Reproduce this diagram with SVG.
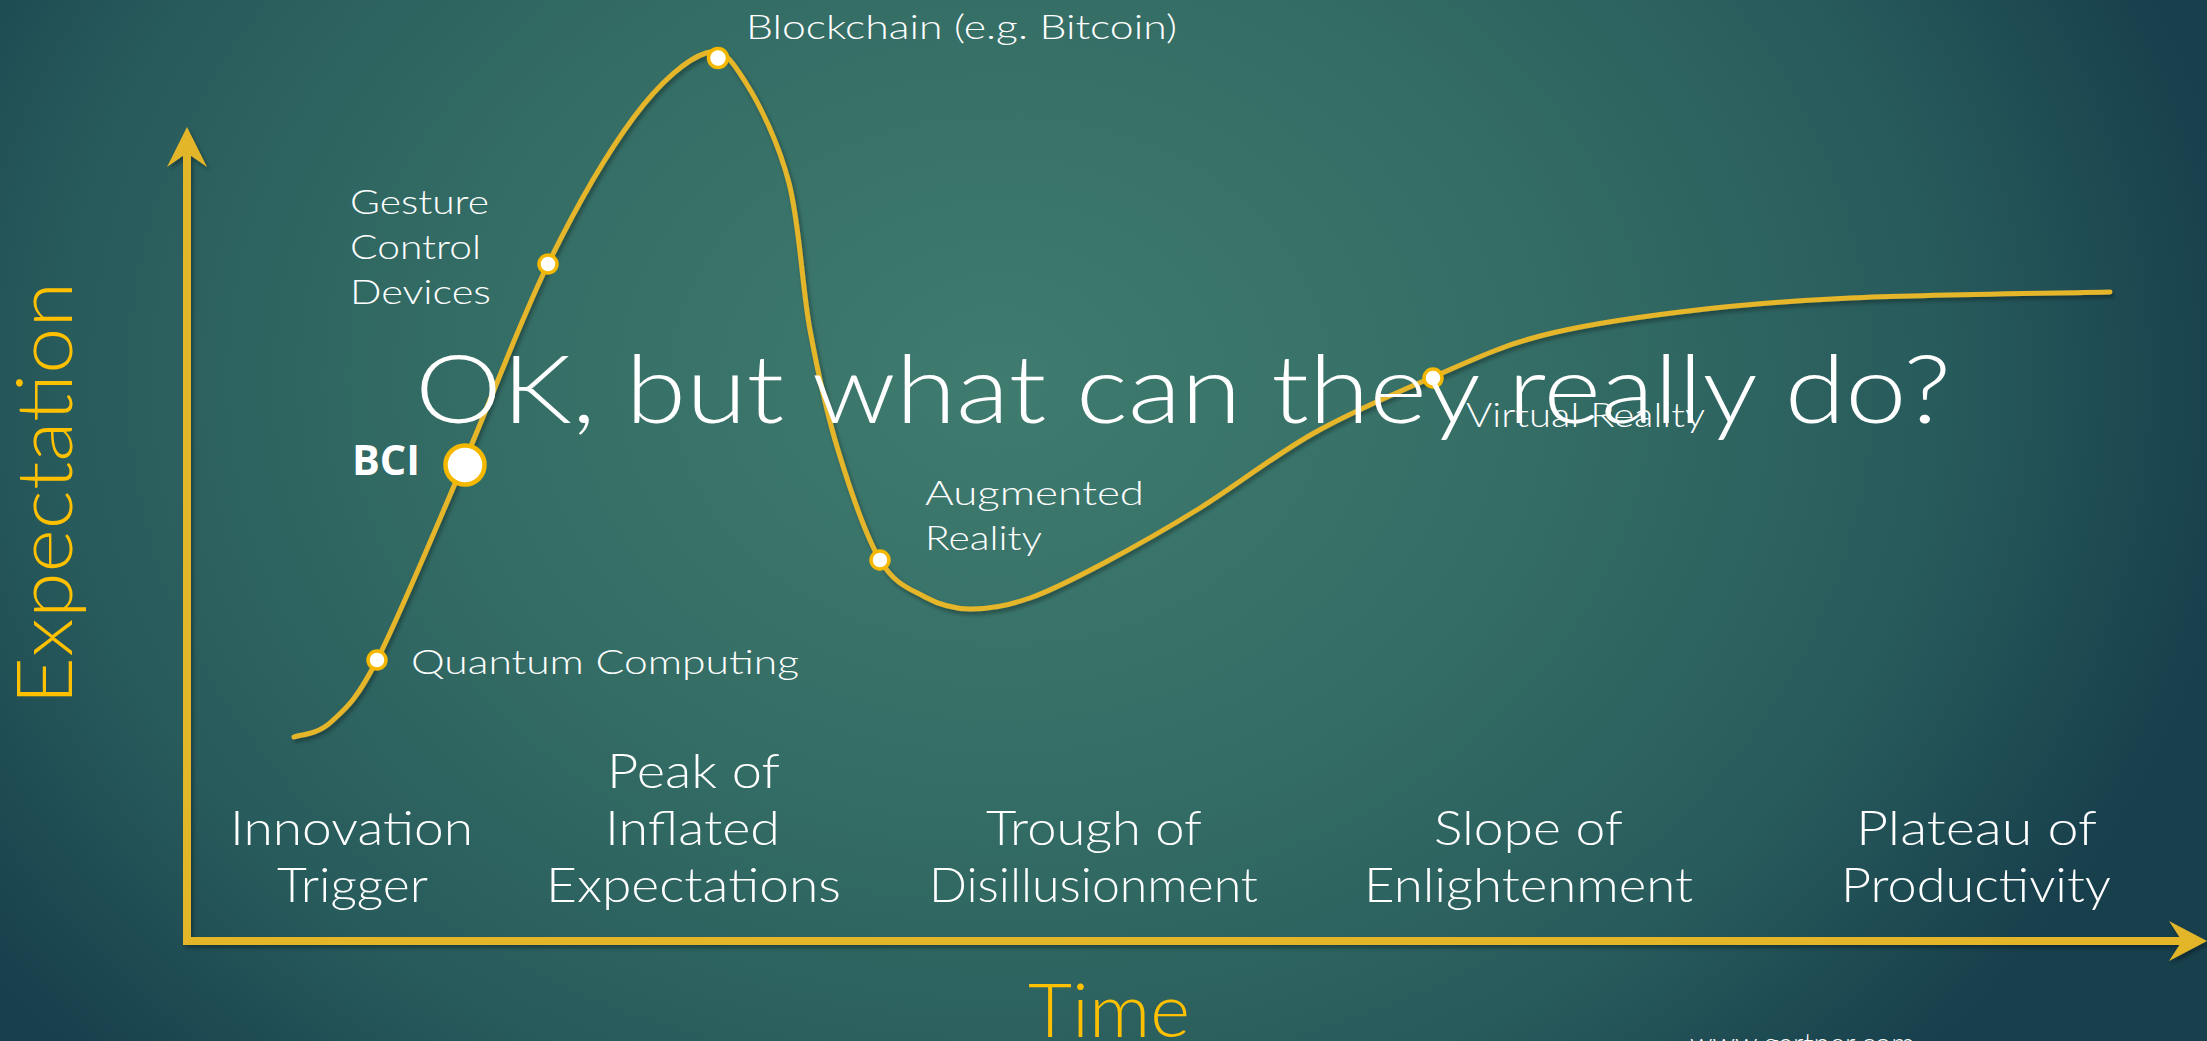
<svg xmlns="http://www.w3.org/2000/svg" width="2207" height="1041" viewBox="0 0 2207 1041">
  <defs>
    <radialGradient id="bg" gradientUnits="userSpaceOnUse" cx="1000" cy="380" r="1250" gradientTransform="translate(1000 380) scale(1 0.8) translate(-1000 -380)">
      <stop offset="0" stop-color="#3f7b6f"/>
      <stop offset="0.45" stop-color="#336c64"/>
      <stop offset="0.75" stop-color="#285b5c"/>
      <stop offset="1" stop-color="#173f4c"/>
    </radialGradient>
    <filter id="sh" x="-5%" y="-5%" width="110%" height="110%">
      <feDropShadow dx="2" dy="3" stdDeviation="2" flood-color="#000" flood-opacity="0.35"/>
    </filter>
    <style>
      .axis { fill: none; stroke: #e3b62a; stroke-width: 8; stroke-linejoin: miter; }
      .head { fill: #e3b62a; }
      .curve { fill: none; stroke: #e5b52b; stroke-width: 5; stroke-linecap: round; stroke-linejoin: round; }
      .dot { fill: #ffffff; stroke: #f5b800; stroke-width: 3.5; }
      .big { fill: #ffffff; stroke: #f5b800; stroke-width: 4.5; }
      .lbl { font-family: "Lato", "Liberation Sans", sans-serif; font-weight: 300; fill: #ffffff; }
      .ph { font-size: 48px; text-anchor: middle; }
      .pt { font-size: 34px; }
      .ax { font-family: "Lato", "Liberation Sans", sans-serif; font-weight: 300; fill: #ffc000; }
    </style>
  </defs>

  <rect x="0" y="0" width="2207" height="1041" fill="url(#bg)"/>

  <g id="axes" filter="url(#sh)">
    <polyline class="axis" points="187,153 187,941 2185,941"/>
    <polygon class="head" points="187,127 207,167 187,153 167,167"/>
    <polygon class="head" points="2207,941 2169,961 2182,941 2169,921"/>
  </g>

  <g id="axis-labels">
    <text class="ax" transform="translate(72 493.5) rotate(-90)" x="0" y="0" font-size="76" text-anchor="middle" textLength="423" lengthAdjust="spacingAndGlyphs">Expectation</text>
    <text class="ax" x="1109" y="1037" font-size="75" text-anchor="middle" textLength="162" lengthAdjust="spacingAndGlyphs">Time</text>
  </g>

  <g id="connectors">
    <path class="curve" filter="url(#sh)" d="M294,737 C300.2,734.5 317.2,734.8 331,722 C344.8,709.2 355,702.8 377,660 C399,617.2 434.5,531 463,465 C491.5,399 519.5,322 548,264 C576.5,206 607.7,152.2 634,117 C660.3,81.8 687.3,58.7 706,53 C724.7,47.3 732.2,61.3 746,83 C759.8,104.7 778.3,141.8 789,183 C799.7,224.2 801.8,285.5 810,330 C818.2,374.5 826.3,411.7 838,450 C849.7,488.3 865.5,535.5 880,560 C894.5,584.5 910,588.8 925,597 C940,605.2 952.5,608.8 970,609 C987.5,609.2 1007.7,605.7 1030,598 C1052.3,590.3 1075.7,578 1104,563 C1132.3,548 1165,529.7 1200,508 C1235,486.3 1275.2,454.8 1314,433 C1352.8,411.2 1395.3,393.2 1433,377 C1470.7,360.8 1498.8,346.8 1540,336 C1581.2,325.2 1628.3,318.3 1680,312 C1731.7,305.7 1778.3,301.3 1850,298 C1921.7,294.7 2066.7,293 2110,292"/>
  </g>

  <g id="phase-innovation">
    <text class="lbl ph" x="351.5" y="845" textLength="243" lengthAdjust="spacingAndGlyphs">Innovation</text>
    <text class="lbl ph" x="352.5" y="902" textLength="151" lengthAdjust="spacingAndGlyphs">Trigger</text>
  </g>
  <g id="phase-peak">
    <text class="lbl ph" x="693.5" y="788" textLength="173" lengthAdjust="spacingAndGlyphs">Peak of</text>
    <text class="lbl ph" x="692.5" y="845" textLength="175" lengthAdjust="spacingAndGlyphs">Inflated</text>
    <text class="lbl ph" x="693.5" y="902" textLength="295" lengthAdjust="spacingAndGlyphs">Expectations</text>
  </g>
  <g id="phase-trough">
    <text class="lbl ph" x="1094" y="845" textLength="216" lengthAdjust="spacingAndGlyphs">Trough of</text>
    <text class="lbl ph" x="1093.5" y="902" textLength="329" lengthAdjust="spacingAndGlyphs">Disillusionment</text>
  </g>
  <g id="phase-slope">
    <text class="lbl ph" x="1528.5" y="845" textLength="189" lengthAdjust="spacingAndGlyphs">Slope of</text>
    <text class="lbl ph" x="1528.5" y="902" textLength="329" lengthAdjust="spacingAndGlyphs">Enlightenment</text>
  </g>
  <g id="phase-plateau">
    <text class="lbl ph" x="1976.5" y="845" textLength="241" lengthAdjust="spacingAndGlyphs">Plateau of</text>
    <text class="lbl ph" x="1976" y="902" textLength="270" lengthAdjust="spacingAndGlyphs">Productivity</text>
  </g>

  <g id="node-quantum">
    <circle class="dot" cx="377" cy="660" r="9"/>
    <text class="lbl pt" x="411" y="674" textLength="388" lengthAdjust="spacingAndGlyphs">Quantum Computing</text>
  </g>
  <g id="node-bci">
    <circle class="big" cx="465" cy="465" r="19.5"/>
    <text x="352" y="475" font-family="'Open Sans', 'Liberation Sans', sans-serif" font-weight="700" font-size="42" fill="#ffffff" textLength="68" lengthAdjust="spacingAndGlyphs">BCI</text>
  </g>
  <g id="node-gesture">
    <circle class="dot" cx="548" cy="264" r="9"/>
    <text class="lbl pt" x="350" y="214" textLength="139" lengthAdjust="spacingAndGlyphs">Gesture</text>
    <text class="lbl pt" x="350" y="259" textLength="131" lengthAdjust="spacingAndGlyphs">Control</text>
    <text class="lbl pt" x="350" y="304" textLength="141" lengthAdjust="spacingAndGlyphs">Devices</text>
  </g>
  <g id="node-blockchain">
    <circle class="dot" cx="718" cy="58" r="9.5"/>
    <text class="lbl pt" x="746" y="39" textLength="431" lengthAdjust="spacingAndGlyphs">Blockchain (e.g. Bitcoin)</text>
  </g>
  <g id="node-ar">
    <circle class="dot" cx="880" cy="560" r="9"/>
    <text class="lbl pt" x="925" y="505" textLength="219" lengthAdjust="spacingAndGlyphs">Augmented</text>
    <text class="lbl pt" x="925" y="550" textLength="117" lengthAdjust="spacingAndGlyphs">Reality</text>
  </g>
  <g id="node-vr">
    <circle class="dot" cx="1433" cy="378" r="9"/>
    <text class="lbl" x="1466" y="427" font-size="34" fill="#e2e8e8" textLength="239" lengthAdjust="spacingAndGlyphs">Virtual Reality</text>
  </g>

  <g id="title">
    <text class="lbl" x="415" y="423" font-size="95" textLength="1536" lengthAdjust="spacingAndGlyphs">OK, but what can they really do?</text>
  </g>

  <g id="source">
    <text class="lbl" x="1690" y="1054" font-size="30" fill="#dfe6e6" textLength="225" lengthAdjust="spacingAndGlyphs">www.gartner.com</text>
  </g>
</svg>
